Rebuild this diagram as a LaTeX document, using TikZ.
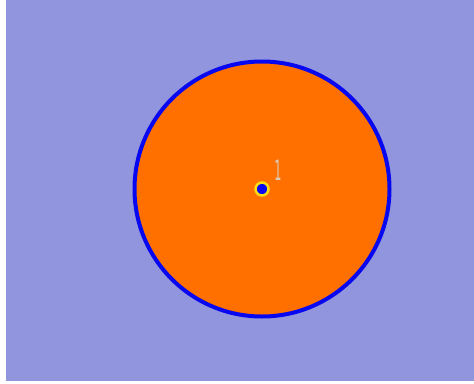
\documentclass[tikz,border=0pt]{standalone}
\usepackage{fontspec}
\setmainfont{DejaVu Sans}
\definecolor{lav}{RGB}{145,149,221}
\definecolor{disk}{RGB}{255,112,0}
\definecolor{rim}{RGB}{8,8,240}
\definecolor{halo}{RGB}{250,220,20}
\definecolor{lbl}{RGB}{220,205,185}
\tikzset{
  diskstyle/.style={circle, draw=rim, line width=4pt, fill=disk, minimum size=255pt, inner sep=0pt},
  dotstyle/.style={circle, draw=halo, line width=2.5pt, fill=rim, minimum size=13pt, inner sep=0pt},
  lblstyle/.style={text=lbl, font=\fontsize{28}{28}\selectfont, xscale=0.4, inner sep=0pt}
}
\begin{document}
\begin{tikzpicture}[x=1pt,y=-1pt]
  \useasboundingbox (0,0) rectangle (474,383);
  \fill[white] (0,0) rectangle (474,383);
  \fill[lav] (6,0) rectangle (474,381);
  \node[diskstyle] (disk) at (262,189) {};
  \node[dotstyle] (center) at (262,189) {};
  \node[lblstyle] (one) at (278,170) {1};
\end{tikzpicture}
\end{document}
